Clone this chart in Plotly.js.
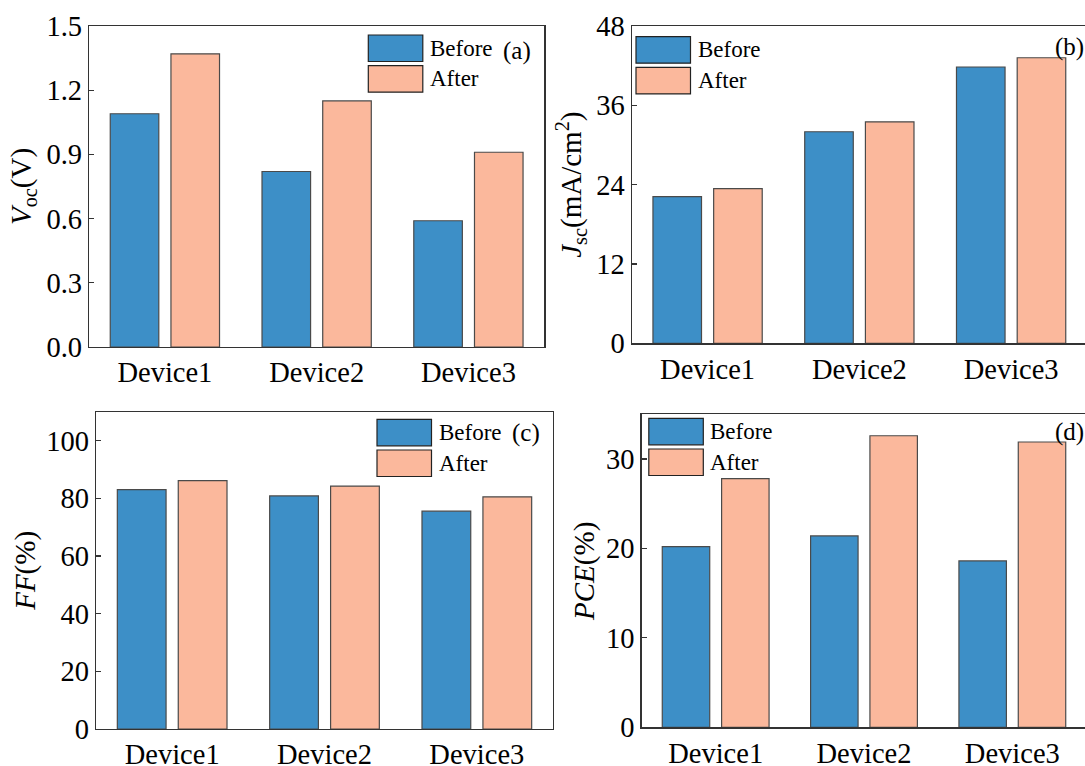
<!DOCTYPE html>
<html>
<head>
<meta charset="utf-8">
<script src="https://cdn.plot.ly/plotly-3.0.1.min.js"></script>
<style>
  html, body { margin: 0; padding: 0; overflow: hidden; background: #ffffff; }
</style>
</head>
<body>
<div id="chart"></div>
<script>
// Photovoltaic parameters of three devices, before and after treatment
const devices = ['Device1', 'Device2', 'Device3'];
const seriesNames = ['Before', 'After'];

const vocBefore = [1.09, 0.82, 0.59];
const vocAfter  = [1.37, 1.15, 0.91];

const jscBefore = [22.2, 32.0, 41.8];
const jscAfter  = [23.4, 33.5, 43.2];

const ffBefore = [83.0, 80.8, 75.5];
const ffAfter  = [86.1, 84.2, 80.5];

const pceBefore = [20.2, 21.4, 18.6];
const pceAfter  = [27.8, 32.6, 31.9];

const panelLabels = ['(a)', '(b)', '(c)', '(d)'];

// ---- styling ----
const W = 1092, H = 766;
const FONT = 'Liberation Serif';
const BLUE = '#3d8fc7';
const SALMON = '#fbb89c';
const EDGE = '#4a4a4a';
const fills = [BLUE, SALMON];
const barOffsets = [-0.36, 0.04];
const barWidth = 0.32;

// plot boxes in pixels: [left, right, top, bottom]
const panels = [
  { box: [89, 544.3, 26, 347],      before: vocBefore, after: vocAfter,
    title: '<i>V</i><sub>oc</sub>(V)', range: [0, 1.5], dtick: 0.3, fmt: '.1f',
    legendSide: 'right', legTop: 9, labX: 533, labDy: 25, standoff: 6 },
  { box: [631.7, 1087, 26, 343.3],  before: jscBefore, after: jscAfter,
    title: '<i>J</i><sub>sc</sub>(mA/cm<sup>2</sup>)', range: [0, 48], dtick: 12, fmt: '',
    legendSide: 'left', legTop: 10.7, labX: 1085.5, labDy: 21, standoff: 6 },
  { box: [96, 553, 411.7, 729],     before: ffBefore, after: ffAfter,
    title: '<i>FF</i>(%)', range: [0, 110], dtick: 20, fmt: '',
    legendSide: 'right', legTop: 7.6, labX: 542, labDy: 21, standoff: 2 },
  { box: [641.5, 1086.5, 414.3, 727.3], before: pceBefore, after: pceAfter,
    title: '<i>PCE</i>(%)', range: [0, 35], dtick: 10, fmt: '',
    legendSide: 'left', legTop: 4, labX: 1085.5, labDy: 17.4, standoff: 3 }
];

const px = v => v / W;
const py = v => 1 - v / H;

const data = [];
const layout = {
  width: W, height: H,
  margin: { l: 0, r: 0, t: 0, b: 0 },
  paper_bgcolor: '#ffffff',
  plot_bgcolor: '#ffffff',
  showlegend: false,
  font: { family: FONT, color: '#000000' },
  shapes: [],
  annotations: []
};

panels.forEach((p, i) => {
  const n = i === 0 ? '' : String(i + 1);
  const [l, r, t, b] = p.box;
  [p.before, p.after].forEach((vals, k) => {
    data.push({
      type: 'bar',
      name: seriesNames[k],
      x: devices,
      y: vals,
      xaxis: 'x' + n,
      yaxis: 'y' + n,
      offset: barOffsets[k],
      width: barWidth,
      marker: { color: fills[k], line: { color: EDGE, width: 1.2 } },
      hoverinfo: 'x+y+name'
    });
  });

  layout['xaxis' + n] = {
    domain: [px(l), px(r)],
    anchor: 'y' + n,
    type: 'category',
    range: [-0.5, 2.5],
    showline: true, mirror: true, linecolor: '#333333', linewidth: 1.2,
    ticks: '', showgrid: false, zeroline: false,
    tickfont: { family: FONT, size: 28.5, color: '#000000' },
    fixedrange: true
  };
  layout['yaxis' + n] = {
    domain: [py(b), py(t)],
    anchor: 'x' + n,
    range: p.range,
    dtick: p.dtick,
    tick0: 0,
    tickformat: p.fmt,
    showline: true, mirror: true, linecolor: '#333333', linewidth: 1.2,
    ticks: 'inside', ticklen: 5, tickwidth: 1.2, tickcolor: '#333333',
    showgrid: false, zeroline: false,
    tickfont: { family: FONT, size: 28.5, color: '#000000' },
    title: { text: p.title, font: { family: FONT, size: 29, color: '#000000' }, standoff: p.standoff },
    fixedrange: true
  };

  // legend swatches and labels
  const swW = 54.5, swH = 26.5, step = 30.7;
  const swL = p.legendSide === 'right' ? r - 176 : l + (i === 1 ? 4.3 : 7.3);
  seriesNames.forEach((name, k) => {
    const top = t + p.legTop + k * step;
    layout.shapes.push({
      type: 'rect', xref: 'paper', yref: 'paper',
      x0: px(swL), x1: px(swL + swW), y0: py(top + swH), y1: py(top),
      fillcolor: fills[k], line: { color: '#222222', width: 1.2 }
    });
    layout.annotations.push({
      xref: 'paper', yref: 'paper', x: px(swL + swW + 5), y: py(top + swH / 2),
      xanchor: 'left', yanchor: 'middle', showarrow: false,
      text: name, font: { family: FONT, size: 23, color: '#000000' }
    });
  });

  // panel letter
  layout.annotations.push({
    xref: 'paper', yref: 'paper', x: px(p.labX), y: py(t + p.labDy),
    xanchor: 'right', yanchor: 'middle', showarrow: false,
    text: panelLabels[i], font: { family: FONT, size: 25, color: '#000000' }
  });
});

Plotly.newPlot('chart', data, layout, { displayModeBar: false, staticPlot: true });
</script>
</body>
</html>
